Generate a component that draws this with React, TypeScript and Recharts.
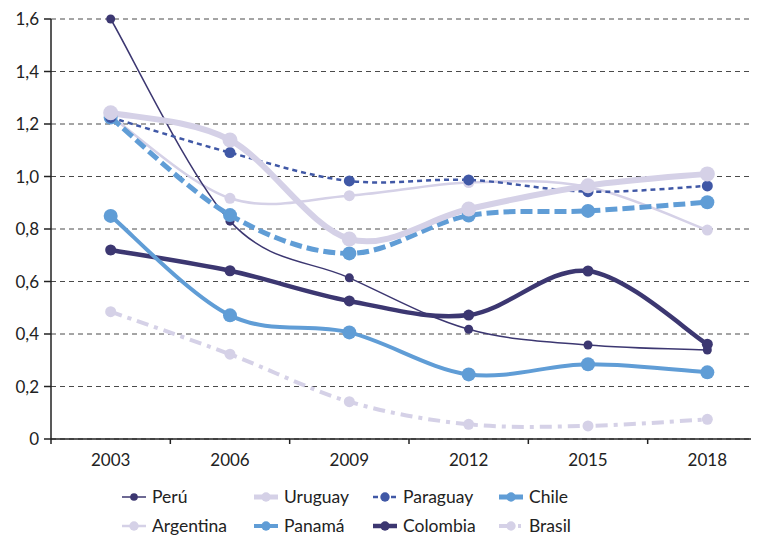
import React from 'react';
import { LineChart, Line, XAxis, YAxis, CartesianGrid, Legend } from 'recharts';

const years = ['2003', '2006', '2009', '2012', '2015', '2018'];
const peru = [1.6, 0.83, 0.614, 0.418, 0.358, 0.339];
const uruguay = [1.243, 1.139, 0.762, 0.876, 0.965, 1.01];
const paraguay = [1.225, 1.091, 0.983, 0.987, 0.942, 0.964];
const chile = [1.225, 0.853, 0.707, 0.851, 0.869, 0.902];
const argentina = [1.23, 0.917, 0.927, 0.977, 0.96, 0.796];
const panama = [0.85, 0.471, 0.406, 0.246, 0.285, 0.254];
const colombia = [0.72, 0.641, 0.526, 0.472, 0.64, 0.361];
const brasil = [0.485, 0.323, 0.142, 0.056, 0.05, 0.075];
const yTicks = [0, 0.2, 0.4, 0.6, 0.8, 1.0, 1.2, 1.4, 1.6];

const NAVY = '#3c3771';
const LAV = '#d5d1e7';
const BLUE = '#4058a6';
const SKY = '#609dd6';

type S = { key: string; name: string; values: number[]; color: string; width: number; dash?: string; iconDash?: string; r: number };

const series: S[] = [
  { key: 'peru', name: 'Perú', values: peru, color: NAVY, width: 1.5, r: 4.5 },
  { key: 'uruguay', name: 'Uruguay', values: uruguay, color: LAV, width: 6, r: 7.5 },
  { key: 'paraguay', name: 'Paraguay', values: paraguay, color: BLUE, width: 2.5, dash: '5 4', iconDash: '5 4', r: 5.5 },
  { key: 'chile', name: 'Chile', values: chile, color: SKY, width: 5, dash: '12 5', iconDash: '11 2', r: 7 },
  { key: 'argentina', name: 'Argentina', values: argentina, color: LAV, width: 2.5, r: 5.5 },
  { key: 'panama', name: 'Panamá', values: panama, color: SKY, width: 4, r: 7 },
  { key: 'colombia', name: 'Colombia', values: colombia, color: NAVY, width: 4.5, r: 5.5 },
  { key: 'brasil', name: 'Brasil', values: brasil, color: LAV, width: 4, dash: '12 6 4 6', iconDash: '8 3 4 4 3 4', r: 5.5 },
];

const drawOrder = ['argentina', 'brasil', 'peru', 'colombia', 'panama', 'chile', 'paraguay', 'uruguay'];

const data = years.map((y, i) => {
  const row: Record<string, any> = { year: y };
  series.forEach((s) => {
    row[s.key] = s.values[i];
  });
  return row;
});

// Catmull-Rom style smoothing (similar to spreadsheet smoothed lines)
const smoothCurve: any = (context: any) => {
  let pts: number[][] = [];
  return {
    areaStart() {},
    areaEnd() {},
    lineStart() {
      pts = [];
    },
    point(x: number, y: number) {
      pts.push([+x, +y]);
    },
    lineEnd() {
      if (!pts.length) return;
      context.moveTo(pts[0][0], pts[0][1]);
      for (let i = 0; i < pts.length - 1; i++) {
        const p0 = pts[i - 1] || pts[i];
        const p1 = pts[i];
        const p2 = pts[i + 1];
        const p3 = pts[i + 2] || p2;
        context.bezierCurveTo(
          p1[0] + (p2[0] - p0[0]) / 6,
          p1[1] + (p2[1] - p0[1]) / 6,
          p2[0] - (p3[0] - p1[0]) / 6,
          p2[1] - (p3[1] - p1[1]) / 6,
          p2[0],
          p2[1]
        );
      }
    },
  };
};

const FONT = 'Lato, "Open Sans", sans-serif';
const HALF_BAND = 716 / 12;

const XTick = (props: any) => {
  const { x, y, payload } = props;
  return (
    <g>
      <line x1={x - HALF_BAND} x2={x - HALF_BAND} y1={y - 7} y2={y - 2} stroke="#222" strokeWidth={1.5} />
      <text x={x} y={y + 20} textAnchor="middle" fontSize={17} fill="#222" fontFamily={FONT}>
        {payload.value}
      </text>
    </g>
  );
};

const LegendIcon = ({ s }: { s: S }) => (
  <svg width={26} height={16} style={{ display: 'block', flex: '0 0 auto' }}>
    <line x1={1} x2={25} y1={8} y2={8} stroke={s.color} strokeWidth={Math.min(s.width, 5)} strokeDasharray={s.iconDash} />
    <circle cx={13} cy={8} r={Math.min(s.r, 5.5) * 0.85} fill={s.color} />
  </svg>
);

const legendColumns = ['132px', '119px', '126px', '120px'];

const renderLegend = () => (
  <div
    style={{
      display: 'grid',
      gridTemplateColumns: legendColumns.join(' '),
      gridAutoRows: '29px',
      fontFamily: FONT,
      fontSize: 17.5,
      color: '#222',
    }}
  >
    {series.map((s) => (
      <div key={s.key} style={{ display: 'flex', alignItems: 'center', gap: 5, whiteSpace: 'nowrap' }}>
        <LegendIcon s={s} />
        <span>{s.name}</span>
      </div>
    ))}
  </div>
);

export default function App() {
  const ordered = drawOrder.map((k) => series.find((s) => s.key === k)!);
  return (
    <div style={{ position: 'relative', width: 751, height: 527, overflow: 'hidden' }}>
      <LineChart width={770} height={527} data={data} margin={{ top: 11, right: 11, left: 0, bottom: 66 }}>
        <CartesianGrid vertical={false} stroke="#4a4a4a" strokeDasharray="5 4" strokeWidth={1} />
        <XAxis
          dataKey="year"
          scale="band"
          stroke="#222"
          strokeWidth={1.5}
          tickLine={false}
          tickSize={7}
          tickMargin={0}
          tick={<XTick />}
          interval={0}
          height={30}
        />
        <YAxis
          width={43}
          domain={[0, 1.6]}
          ticks={yTicks}
          stroke="#222"
          strokeWidth={1.5}
          tickSize={7}
          tickMargin={5}
          tick={{ fill: '#222', fontSize: 17, fontFamily: FONT }}
          tickFormatter={(v: number) => (v === 0 ? '0' : v.toFixed(1).replace('.', ','))}
          interval={0}
        />
        {ordered.map((s) => (
          <Line
            key={s.key}
            dataKey={s.key}
            name={s.name}
            type={smoothCurve}
            stroke={s.color}
            strokeWidth={s.width}
            strokeDasharray={s.dash}
            dot={{ r: s.r, fill: s.color, stroke: 'none', strokeWidth: 0 }}
            activeDot={false}
            isAnimationActive={false}
          />
        ))}
        <Legend
          verticalAlign="middle"
          align="center"
          layout="horizontal"
          content={renderLegend}
          wrapperStyle={{ top: 474, left: 113, width: 520, height: 58 }}
        />
      </LineChart>
    </div>
  );
}
